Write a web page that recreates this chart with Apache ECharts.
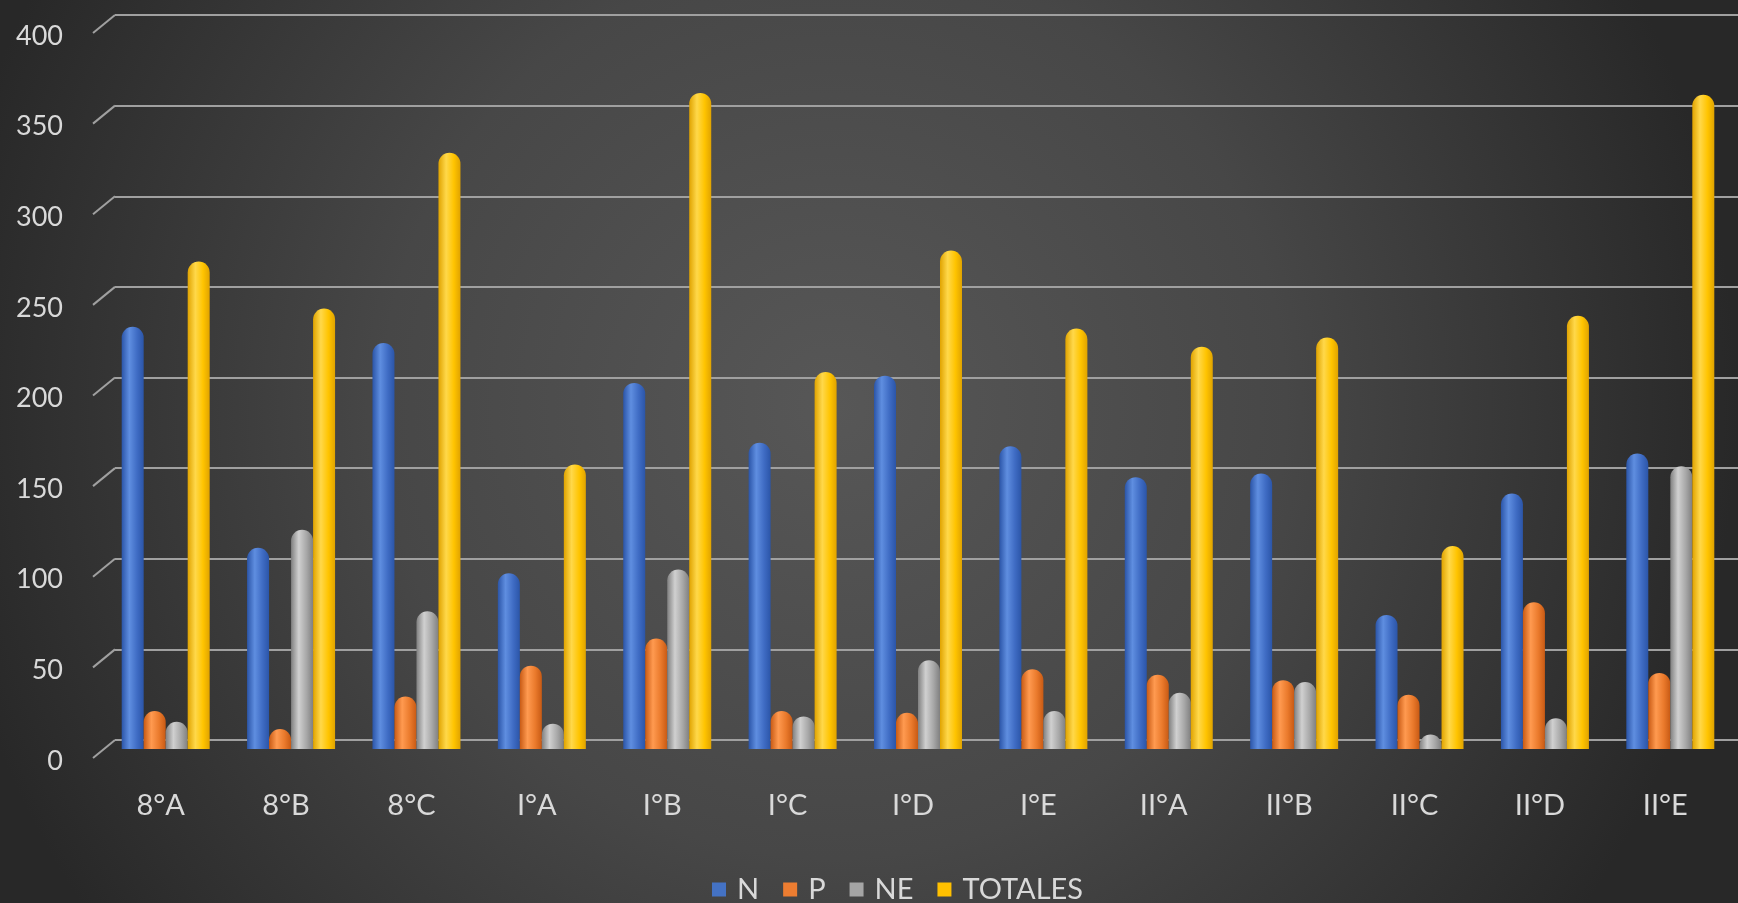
<!DOCTYPE html>
<html>
<head>
<meta charset="utf-8">
<script src="https://cdn.jsdelivr.net/npm/echarts@6/dist/echarts.min.js"></script>
<style>
html,body{margin:0;padding:0;width:1738px;height:903px;overflow:hidden;background:#333;}
#c{width:1738px;height:903px;}
</style>
</head>
<body>
<div id="c"></div>
<script>
const categories = ['8°A','8°B','8°C','I°A','I°B','I°C','I°D','I°E','II°A','II°B','II°C','II°D','II°E'];
const seriesN = [233, 111, 224, 97, 202, 169, 206, 167, 150, 152, 74, 141, 163];
const seriesP = [21, 11, 29, 46, 61, 21, 20, 44, 41, 38, 30, 81, 42];
const seriesNE = [15, 121, 76, 14, 99, 18, 49, 21, 31, 37, 8, 17, 156];
const seriesTot = [269, 243, 329, 157, 362, 208, 275, 232, 222, 227, 112, 239, 361];
const seriesNames = ['N', 'P', 'NE', 'TOTALES'];
const yTicks = [0, 50, 100, 150, 200, 250, 300, 350, 400];

const FONT = 'Lato';
const TEXT = '#d9d9d9';
const GRIDC = '#a0a0a0';

function cyl(dark, light, mid) {
  return {
    type: 'linear', x: 0, y: 0, x2: 1, y2: 0,
    colorStops: [
      {offset: 0, color: dark},
      {offset: 0.35, color: light},
      {offset: 0.7, color: mid},
      {offset: 1, color: dark}
    ]
  };
}
const palettes = [
  {solid: '#4472C4', grad: cyl('#2b55a8', '#5f8ee0', '#3f6cc4')},
  {solid: '#ED7D31', grad: cyl('#c85a14', '#ff9a50', '#ea7a2c')},
  {solid: '#A5A5A5', grad: cyl('#808080', '#d0d0d0', '#a8a8a8')},
  {solid: '#FFC000', grad: cyl('#e0a300', '#ffd84a', '#ffc400')}
];
const dataArr = [seriesN, seriesP, seriesNE, seriesTot];

const barSeries = dataArr.map((d, i) => ({
  name: seriesNames[i],
  type: 'bar',
  xAxisIndex: 1, yAxisIndex: 1,
  data: d,
  barWidth: 22,
  barGap: '0%',
  itemStyle: {color: palettes[i].grad, borderRadius: [11, 11, 0, 0]}
}));

const tickSeries = {
  name: 'ticks',
  type: 'custom',
  xAxisIndex: 0, yAxisIndex: 0,
  clip: false,
  silent: true,
  data: yTicks.map(v => [0, v]),
  renderItem: function (params, api) {
    const p = api.coord([0, api.value(1)]);
    const x0 = params.coordSys.x;
    return {
      type: 'line',
      shape: {x1: x0 - 22, y1: p[1] + 18, x2: x0, y2: p[1]},
      style: {stroke: GRIDC, lineWidth: 2}
    };
  }
};

const chart = echarts.init(document.getElementById('c'), null, {renderer: 'canvas'});
chart.setOption({
  backgroundColor: {
    type: 'radial', x: 0.48, y: 0.45, r: 1.0,
    colorStops: [
      {offset: 0, color: '#575757'},
      {offset: 0.5, color: '#474747'},
      {offset: 1, color: '#282828'}
    ]
  },
  animation: false,
  textStyle: {fontFamily: FONT},
  legend: {
    bottom: -6,
    left: 707,
    itemWidth: 14,
    itemHeight: 14,
    itemGap: 24,
    icon: 'rect',
    textStyle: {color: TEXT, fontSize: 29, fontFamily: FONT, padding: [0, 0, 0, 6]},
    data: seriesNames.map((n, i) => ({name: n, itemStyle: {color: palettes[i].solid}}))
  },
  grid: [
    {left: 115, right: 0, top: 15, height: 725},
    {left: 103, right: 5, top: 24, height: 725}
  ],
  xAxis: [
    {gridIndex: 0, type: 'category', data: categories, show: false},
    {
      gridIndex: 1, type: 'category', data: categories,
      axisLine: {show: false}, axisTick: {show: false},
      axisLabel: {color: TEXT, fontSize: 29, fontFamily: FONT, margin: 42, padding: [0, 10, 0, 0]}
    }
  ],
  yAxis: [
    {
      gridIndex: 0, type: 'value', min: 0, max: 400, interval: 50,
      axisLine: {show: false}, axisTick: {show: false},
      axisLabel: {show: false},
      splitLine: {lineStyle: {color: GRIDC, width: 2}}
    },
    {
      gridIndex: 1, type: 'value', min: 0, max: 400, interval: 50,
      axisLine: {show: false}, axisTick: {show: false},
      splitLine: {show: false},
      axisLabel: {
        color: TEXT, fontSize: 27, fontFamily: FONT, margin: 40,
        verticalAlign: 'top', lineHeight: 24,
        formatter: v => yTicks.includes(v) ? String(v) : ''
      }
    }
  ],
  series: [tickSeries].concat(barSeries)
});
</script>
</body>
</html>
